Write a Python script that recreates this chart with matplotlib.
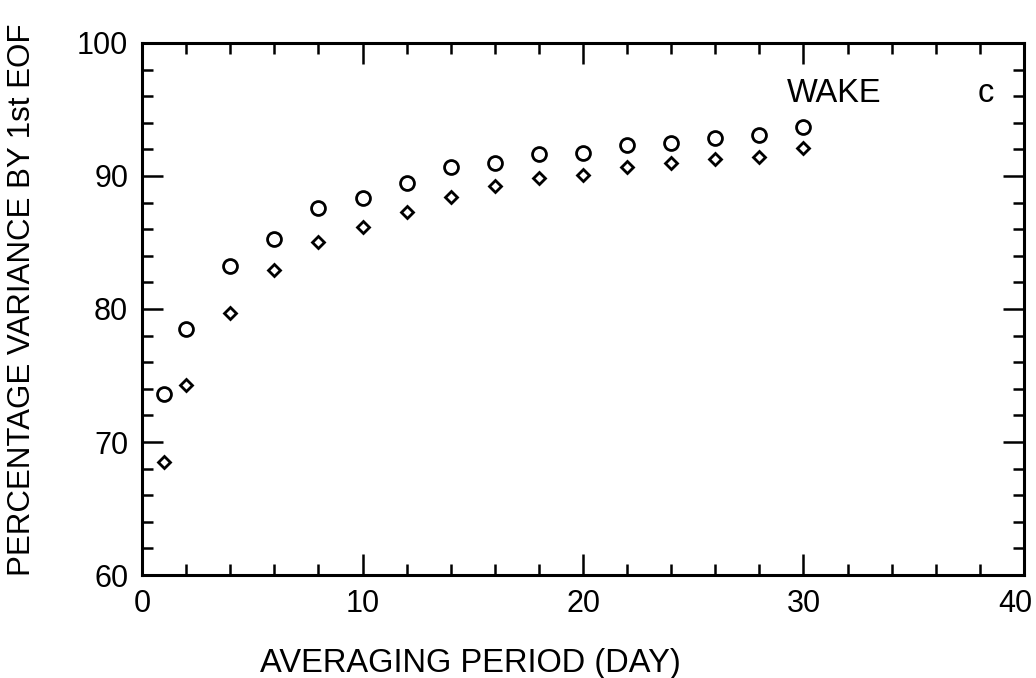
import numpy as np
import matplotlib
matplotlib.use('Agg')
import matplotlib.pyplot as plt
from matplotlib.ticker import MultipleLocator, FuncFormatter

plt.rcParams['font.family'] = ['Liberation Sans', 'DejaVu Sans']

# averaging period (days) and % variance explained by the 1st EOF
period = [1, 2, 4, 6, 8, 10, 12, 14, 16, 18, 20, 22, 24, 26, 28, 30]
var_circle = [73.6, 78.5, 83.2, 85.3, 87.6, 88.35, 89.5, 90.7, 91.0, 91.65,
              91.7, 92.3, 92.5, 92.85, 93.1, 93.7]
var_diamond = [68.5, 74.3, 79.7, 82.9, 85.0, 86.2, 87.3, 88.4, 89.25, 89.85,
               90.1, 90.7, 91.0, 91.3, 91.4, 92.1]

fig = plt.figure(figsize=(10.36, 6.78), dpi=100)
ax = fig.add_axes([0.1371, 0.1519, 0.8513, 0.7847])

ax.plot(period, var_circle, 'o', ms=10, mfc='white', mec='black', mew=2.0, ls='none')
ax.plot(period, var_diamond, 'D', ms=6.5, mfc='white', mec='black', mew=2.0, ls='none')

ax.set_xlim(0, 40)
ax.set_ylim(60, 100)
ax.xaxis.set_major_locator(MultipleLocator(10))
ax.xaxis.set_minor_locator(MultipleLocator(2))
ax.yaxis.set_major_locator(MultipleLocator(10))
ax.yaxis.set_minor_locator(MultipleLocator(2))
# the "40" label is drawn separately, nudged left so it stays on the page
ax.xaxis.set_major_formatter(FuncFormatter(lambda v, p: '' if v >= 40 else f'{v:g}'))
ax.tick_params(which='both', direction='in', top=True, right=True, width=1.8,
               labelsize=22, pad=10)
ax.tick_params(which='major', length=15)
ax.tick_params(which='minor', length=8)
for s in ax.spines.values():
    s.set_linewidth(2.2)

ax.annotate('40', xy=(39.6, 0), xycoords=ax.get_xaxis_transform(),
            xytext=(0, -10), textcoords='offset points',
            ha='center', va='top', fontsize=22)

ax.text(29.25, 95.56, 'WAKE', fontsize=23.5, ha='left', va='baseline')
ax.text(37.9, 95.56, 'c', fontsize=23.5, ha='left', va='baseline')

fig.text(470 / 1036, 1 - 672 / 678, 'AVERAGING PERIOD (DAY)', fontsize=23.5,
         ha='center', va='baseline')
fig.text(22 / 1036, 1 - 300 / 678, 'PERCENTAGE VARIANCE BY 1st EOF', fontsize=22.5,
         rotation=90, ha='center', va='center')

fig.savefig('out.png', dpi=100)
